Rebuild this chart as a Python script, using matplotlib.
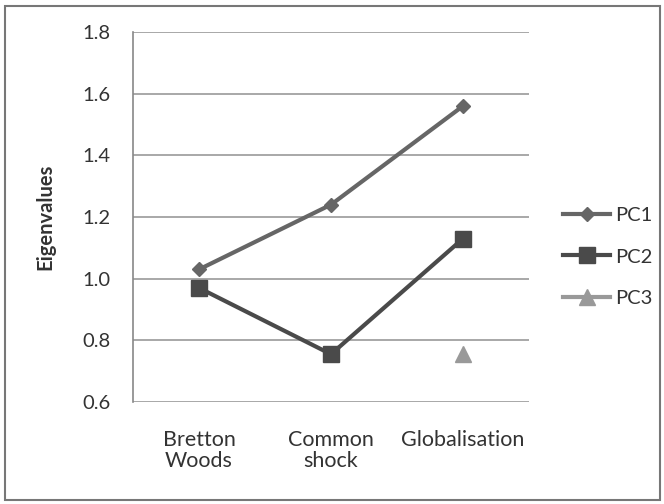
import numpy as np
import matplotlib
matplotlib.use("Agg")
import matplotlib.pyplot as plt
from matplotlib.patches import Rectangle

plt.rcParams['font.family'] = ['Lato', 'DejaVu Sans']

categories = ["Bretton\nWoods", "Common\nshock", "Globalisation"]
pc1 = [1.03, 1.24, 1.56]
pc2 = [0.97, 0.755, 1.13]
pc3 = [np.nan, np.nan, 0.755]
yticks = [0.6, 0.8, 1.0, 1.2, 1.4, 1.6, 1.8]

W, H = 664, 504
fig = plt.figure(figsize=(W / 100, H / 100), dpi=100)
ax = fig.add_axes([133 / W, 102 / H, 396 / W, 370 / H])

# outer frame
fig.patches.append(Rectangle((5 / W, 4 / H), 655 / W, 494 / H,
                             transform=fig.transFigure, fill=False,
                             edgecolor='#777777', linewidth=1.5))

x = np.arange(len(categories))
ax.plot(x, pc1, color='#666666', lw=3, marker='D', ms=7, label='PC1')
ax.plot(x, pc2, color='#4a4a4a', lw=3, marker='s', ms=11, label='PC2')
ax.plot(x, pc3, color='#999999', lw=3, marker='^', ms=11, label='PC3')

ax.set_xlim(-0.5, 2.5)
ax.set_ylim(0.6, 1.8)
ax.set_yticks(yticks)
ax.set_yticklabels(['%.1f' % v for v in yticks], fontsize=14.5, color='#333333')
ax.set_xticks(x)
ax.set_xticklabels(categories, fontsize=15.5, color='#333333', linespacing=1.1)
ax.tick_params(length=0)
ax.tick_params(axis='y', pad=16)
ax.tick_params(axis='x', pad=20)
ax.grid(axis='y', color='#9a9a9a', lw=1.2)
ax.set_axisbelow(True)
for s in ['top', 'right', 'bottom']:
    ax.spines[s].set_visible(False)
ax.spines['left'].set_color('#888888')
ax.spines['left'].set_linewidth(1.2)
ax.set_ylabel('Eigenvalues', fontsize=14.5, fontweight='bold', color='#333333')
ax.yaxis.set_label_coords(-(133 - 55) / 396, 0.5)

fig.legend(*ax.get_legend_handles_labels(), loc='center left',
           bbox_to_anchor=(563 / W, 1 - 257 / H), bbox_transform=fig.transFigure,
           frameon=False, borderpad=0, borderaxespad=0,
           fontsize=14.5, handlelength=2.35, handletextpad=0.25, labelspacing=1.2,
           labelcolor='#333333')

fig.savefig('out.png', dpi=100)
